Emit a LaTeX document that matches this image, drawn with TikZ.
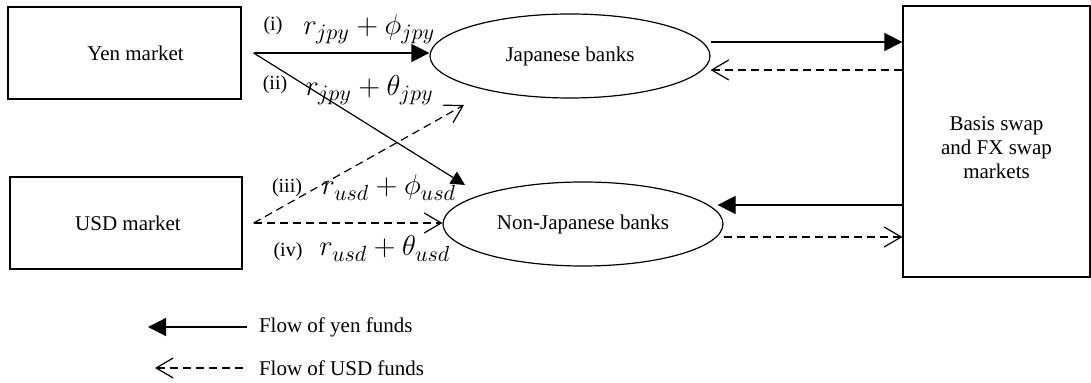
\documentclass[tikz,border=0pt]{standalone}
\usepackage{amsmath,amssymb}
\usepackage{fontspec}
\setmainfont{Liberation Serif}
\usepackage{tikz}
\usetikzlibrary{shapes.geometric, arrows.meta, positioning}
\DeclareMathSizes{14}{14}{10.5}{8}

\begin{document}
\begin{tikzpicture}[
  x=0.5pt, y=-0.5pt,
  font=\fontsize{10.5}{12}\selectfont,
  mkt/.style={rectangle, draw=black, line width=0.65pt, inner sep=0pt, align=center},
  bank/.style={ellipse, draw=black, line width=0.6pt, minimum width=140pt, minimum height=42pt, inner sep=0pt},
  yenflow/.style={-{Triangle[length=9pt, width=9pt]}, line width=0.6pt},
  usdflow/.style={-{Straight Barb[length=8.5pt, width=10pt]}, line width=0.6pt, dash pattern=on 4pt off 2.5pt},
  num/.style={font=\fontsize{10}{11}\selectfont, inner sep=0pt},
  rate/.style={font=\fontsize{14}{17}\selectfont, anchor=base west, inner sep=0pt}
]
\useasboundingbox (0,0) rectangle (1091,383);

% markets and banks
\node[mkt, minimum width=116.5pt, minimum height=46pt] (yenmkt) at (124.5,53) {\hspace*{11pt}Yen market};
\node[mkt, minimum width=116pt, minimum height=46pt] (usdmkt) at (126,223) {\hspace*{2pt}USD market};
\node[bank] (japan) at (570,56) {Japanese banks};
\node[bank] (nonjap) at (583,224) {Non-Japanese banks};
\node[mkt, minimum width=93.5pt, minimum height=135.5pt,
  label={[align=center, yshift=-3pt]center:Basis swap\\and FX swap\\markets}] (swap) at (996.5,141.5) {};

% rates
\node[num] (n1) at (273,26) {(i)};
\node[rate] (r1) at (303,35) {$r_{jpy}+\phi_{jpy}$};
\node[num] (n2) at (275,85) {(ii)};
\node[rate] (r2) at (305,96) {$r_{jpy}+\theta_{jpy}$};
\node[num] (n3) at (287,188) {(iii)};
\node[rate] (r3) at (321,195) {$r_{usd}+\phi_{usd}$};
\node[num] (n4) at (288,252) {(iv)};
\node[rate] (r4) at (319,256) {$r_{usd}+\theta_{usd}$};

\coordinate (nj-in) at (465,185);
\coordinate (jp-in) at (464,105);

% funding flows
\draw[yenflow] ([xshift=6pt]yenmkt.east) -- (japan.west |- yenmkt.east);
\draw[yenflow, -{Triangle[length=7pt, width=7pt]}] ([xshift=6pt]yenmkt.east) -- (nj-in);
\draw[usdflow] ([xshift=5.5pt]usdmkt.east) -- (jp-in);
\draw[usdflow] ([xshift=5.5pt]usdmkt.east) -- (nonjap.west |- usdmkt.east);

\draw[yenflow] ([yshift=7pt]japan.east) -- ([yshift=7pt]japan.east -| swap.west);
\draw[usdflow] ([yshift=-7pt]japan.east -| swap.west) -- ([yshift=-7pt]japan.east);
\draw[yenflow] ([yshift=9.5pt]nonjap.east -| swap.west) -- ([xshift=-3pt, yshift=9.5pt]nonjap.east);
\draw[usdflow] ([yshift=-6.5pt]nonjap.east) -- ([yshift=-6.5pt]nonjap.east -| swap.west);

% legend
\node[anchor=west] (lyen) at (252,327) {Flow of yen funds};
\node[anchor=west] (lusd) at (252,368) {Flow of USD funds};
\coordinate (lyen-tip) at (148,327);
\coordinate (lusd-tip) at (155,368);
\draw[yenflow] ([xshift=-2.5pt]lyen.west) -- (lyen-tip);
\draw[usdflow] ([xshift=-4.5pt]lusd.west) -- (lusd-tip);
\end{tikzpicture}
\end{document}
